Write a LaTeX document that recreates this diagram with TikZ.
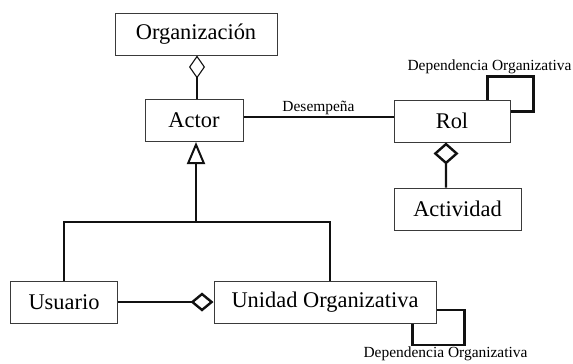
\documentclass[tikz,border=0pt]{standalone}
\usepackage{fontspec}
\setmainfont{Liberation Serif}
\usepackage{xcolor}
\usepackage{tikz}
\usetikzlibrary{positioning, arrows.meta, calc}
\definecolor{boxgray}{HTML}{3A3A3A}
\definecolor{inkblack}{HTML}{111111}

\begin{document}
\begin{tikzpicture}[x=1bp, y=1bp,
    box/.style={draw=boxgray, line width=1bp, minimum height=42bp, inner sep=0pt,
                font=\fontsize{22.5}{25}\selectfont},
    link/.style={draw=inkblack, line width=2.4bp},
    tag/.style={inner sep=1bp, font=\fontsize{15.5}{17}\selectfont}]
    \useasboundingbox (0,0) rectangle (573,-363);
    \node[box, minimum width=162bp] (org) at (196,-34) {Organización};
    \node[box, minimum width=98bp] (actor) at (194,-120.5) {Actor};
    \node[box, minimum width=116bp] (rol) at (452,-121) {Rol};
    \node[box, minimum width=127bp] (act) at (457.5,-209) {Actividad};
    \node[box, minimum width=106bp] (usr) at (64,-302) {Usuario};
    \node[box, minimum width=222bp] (unit) at (325,-302) {Unidad Organizativa};
    \coordinate (gen) at (196,-222);

    \draw[link, line width=1.6bp, -{Diamond[open, length=23bp, width=16bp, line width=1.1bp]}]
      ([xshift=3bp]actor.north) -- ([xshift=1bp]org.south);
    \draw[link] ([yshift=3.5bp]actor.east) -- ([yshift=3.5bp]actor.east -| rol.west)
      node[tag, midway, above] {Desempeña};
    \draw[link] ([xshift=-23bp]rol.north east) -- ++(0,23) -- ++(46,0)
      |- ([yshift=-12bp]rol.north east);
    \node[tag] (rolloop) at (489.5,-67) {Dependencia Organizativa};
    \draw[link, -{Diamond[open, length=22bp, width=25bp]}]
      ([xshift=-11.5bp]act.north) -- ([xshift=-6bp]rol.south);
    \draw[link] (usr.north) |- (gen) -| ([xshift=5bp]unit.north);
    \draw[link, -{Triangle[open, length=22bp, width=18bp, line width=2bp]}]
      (gen) -- (gen |- actor.south);
    \draw[link, -{Diamond[open, length=23bp, width=19bp]}] (usr.east) -- (unit.west);
    \draw[link] ([yshift=-8bp]unit.east) -- ++(28,0) |- ([xshift=-24bp]unit.south east |- 0,-345)
      -- ([xshift=-24bp]unit.south east);
    \node[tag] (unitloop) at (445.5,-353.5) {Dependencia Organizativa};
\end{tikzpicture}
\end{document}
